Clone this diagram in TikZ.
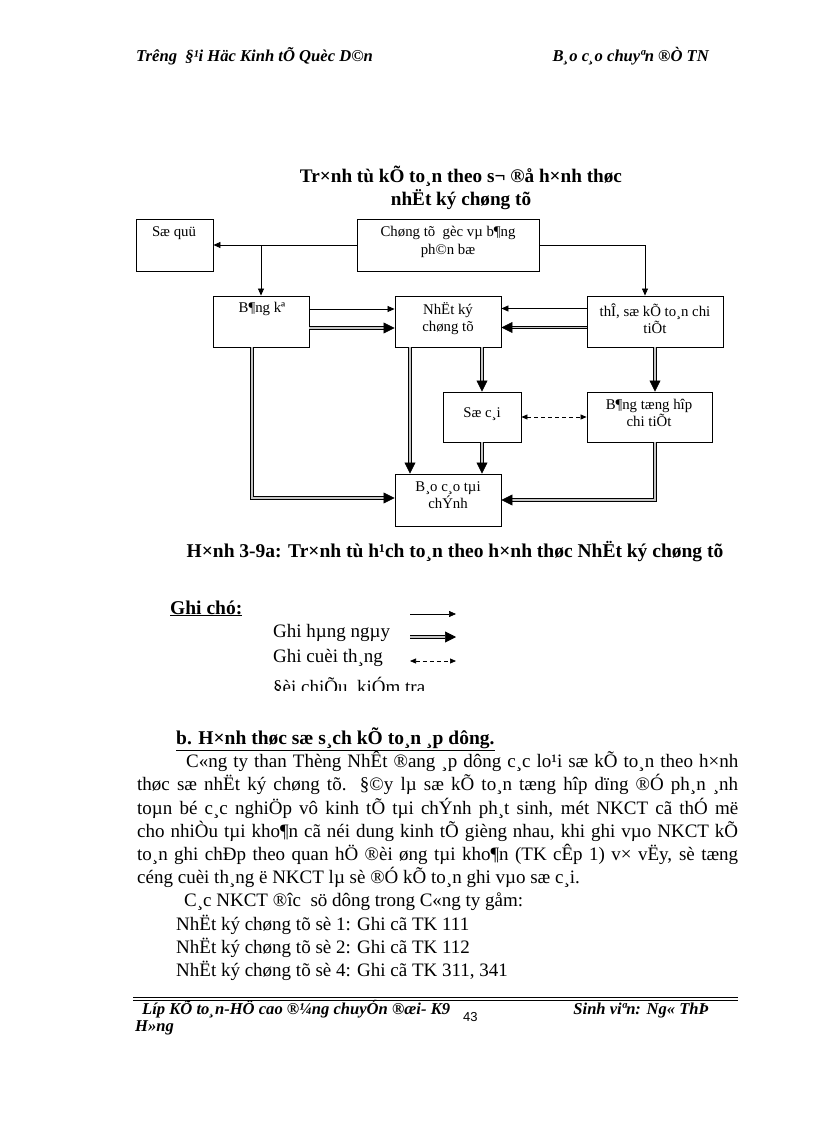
\documentclass[tikz,border=0pt]{standalone}
\usepackage{fontspec}
\setmainfont{Liberation Serif}
\newfontfamily\pagenofont{Liberation Sans}
\usetikzlibrary{arrows.meta}

\begin{document}
\begin{tikzpicture}[x=1pt,y=-1pt,
    box/.style={draw,line width=0.9pt,inner sep=0pt},
    boxtext/.style={align=center,inner sep=0pt,font=\fontsize{14.8}{17.5}\selectfont},
    daily/.style={line width=0.7pt,-{Triangle[length=7pt,width=6pt]}},
    monthly/.style={double=gray!45,line width=0.7pt,double distance=1.8pt,-{Triangle[length=11pt,width=11pt]}},
    check/.style={line width=0.7pt,dash pattern=on 4pt off 3pt,{Triangle[length=6pt,width=5pt]}-{Triangle[length=6pt,width=5pt]}},
    body/.style={anchor=base west,inner sep=0pt,font=\fontsize{19}{23}\selectfont},
    runner/.style={anchor=base west,inner sep=0pt,font=\fontsize{16.6}{16.6}\selectfont\bfseries\itshape}]
    \useasboundingbox (0,0) rectangle (816,1123);

    % Page header
    \node[runner] (school) at (136,62) {Trêng\ \ §¹i Häc Kinh tÕ Quèc D©n};
    \node[runner,anchor=base east] (report) at (709,62) {B¸o c¸o chuyªn ®Ò TN};

    % Title
    \node[font=\fontsize{19.2}{23}\selectfont\bfseries,align=center] (title) at (461,188)
        {Tr×nh tù kÕ to¸n theo s¬ ®å h×nh thøc\\nhËt ký chøng tõ};

    % Boxes
    \node[box,minimum width=77,minimum height=52] (soquy) at (174.5,245) {};
    \node[box,minimum width=182,minimum height=52] (chungtu) at (448,245) {};
    \node[box,minimum width=96,minimum height=51] (bangke) at (261,321.5) {};
    \node[box,minimum width=106,minimum height=51] (nhatky) at (448,321.5) {};
    \node[box,minimum width=136,minimum height=51] (theso) at (655,321.5) {};
    \node[box,minimum width=78,minimum height=50] (socai) at (482,417) {};
    \node[box,minimum width=125,minimum height=50] (tonghop) at (649.5,417) {};
    \node[box,minimum width=106,minimum height=52] (baocao) at (448,500) {};

    % Box labels
    \node[boxtext] (soquy-t) at (174,233) {Sæ quü};
    \node[boxtext] (chungtu-t) at (448,242) {Chøng tõ\ \ gèc vµ b¶ng\\ph©n bæ};
    \node[boxtext] (bangke-t) at (262,309) {B¶ng kª};
    \node[boxtext] (nhatky-t) at (448,318.5) {NhËt ký\\chøng tõ};
    \node[boxtext] (theso-t) at (655,318.5) {thÎ, sæ kÕ to¸n chi\\tiÕt};
    \node[boxtext] (socai-t) at (482,414) {Sæ c¸i};
    \node[boxtext] (tonghop-t) at (649,413) {B¶ng tæng hîp\\chi tiÕt};
    \node[boxtext] (baocao-t) at (448,495) {B¸o c¸o tµi\\chÝnh};

    % Daily entries
    \draw[daily] (chungtu.west) -- (soquy.east);
    \draw[daily] (chungtu.west -| bangke.north) -- (bangke.north);
    \draw[daily] (chungtu.east) -| ([xshift=-10pt]theso.north);
    \draw[daily] ([yshift=12.5pt]bangke.east) -- ([yshift=12.5pt]nhatky.west);
    \draw[daily] ([yshift=13pt]theso.west) -- ([yshift=13pt]nhatky.east);

    % Month-end entries
    \draw[monthly] ([yshift=-6.5pt]bangke.east) -- ([yshift=-6.5pt]nhatky.west);
    \draw[monthly] ([yshift=-6pt]theso.west) -- ([yshift=-6pt]nhatky.east);
    \draw[monthly] ([xshift=-9pt]bangke.south) |- ([yshift=2pt]baocao.west);
    \draw[monthly] ([xshift=-38pt]nhatky.south) -- ([xshift=-38pt]baocao.north);
    \draw[monthly] (nhatky.south -| socai.north) -- (socai.north);
    \draw[monthly] (socai.south) -- (socai.south |- baocao.north);
    \draw[monthly] (theso.south) -- (theso.south |- tonghop.north);
    \draw[monthly] ([xshift=5.5pt]tonghop.south) |- (baocao.east);

    % Cross-check
    \draw[check] (socai.east) -- (tonghop.west);

    % Caption
    \node[font=\fontsize{19.5}{22}\selectfont\bfseries] (caption) at (455,552)
        {H×nh 3-9a: Tr×nh tù h¹ch to¸n theo h×nh thøc NhËt ký chøng tõ};

    % Legend
    \node[body,font=\fontsize{19.5}{23}\selectfont\bfseries] (key) at (170,614) {\underline{Ghi chó:}};
    \node[body] (key-daily) at (273,637) {Ghi hµng ngµy};
    \node[body] (key-month) at (273,662) {Ghi cuèi th¸ng};
    \begin{scope}
        \clip (260,670) rectangle (480,690);
        \node[body] (key-check) at (273,693) {§èi chiÕu, kiÓm tra};
    \end{scope}
    \coordinate (A1) at (410,614);
    \coordinate (B1) at (456,614);
    \coordinate (A2) at (410,637);
    \coordinate (B2) at (456,637);
    \coordinate (A3) at (410,661);
    \coordinate (B3) at (456,661);
    \draw[daily] (A1) -- (B1);
    \draw[monthly] (A2) -- (B2);
    \draw[check] (A3) -- (B3);

    % Body text
    \node[body,font=\fontsize{19.5}{23}\selectfont\bfseries] (heading) at (176,744)
        {\underline{b. H×nh thøc sæ s¸ch kÕ to¸n ¸p dông.}};
    \node[body] (line1) at (186,767) {\makebox[552pt][s]{C«ng ty than Thèng NhÊt ®ang ¸p dông c¸c lo¹i sæ kÕ to¸n theo h×nh}};
    \node[body] (line2) at (137,790) {\makebox[601pt][s]{thøc sæ nhËt ký chøng tõ. §©y lµ sæ kÕ to¸n tæng hîp dïng ®Ó ph¸n ¸nh}};
    \node[body] (line3) at (137,814) {\makebox[601pt][s]{toµn bé c¸c nghiÖp vô kinh tÕ tµi chÝnh ph¸t sinh, mét NKCT cã thÓ më}};
    \node[body] (line4) at (137,837) {\makebox[601pt][s]{cho nhiÒu tµi kho¶n cã néi dung kinh tÕ gièng nhau, khi ghi vµo NKCT kÕ}};
    \node[body] (line5) at (137,860) {\makebox[601pt][s]{to¸n ghi chÐp theo quan hÖ ®èi øng tµi kho¶n (TK cÊp 1) v× vËy, sè tæng}};
    \node[body] (line6) at (137,883) {céng cuèi th¸ng ë NKCT lµ sè ®Ó kÕ to¸n ghi vµo sæ c¸i.};
    \node[body] (line7) at (184,906) {C¸c NKCT ®îc\ \ sö dông trong C«ng ty gåm:};
    \node[body] (line8) at (176,930) {NhËt ký chøng tõ sè 1: Ghi cã TK 111};
    \node[body] (line9) at (176,953) {NhËt ký chøng tõ sè 2: Ghi cã TK 112};
    \node[body] (line10) at (176,976) {NhËt ký chøng tõ sè 4: Ghi cã TK 311, 341};

    % Page footer
    \draw[line width=1.6pt] (133,997.5) -- (738,997.5);
    \draw[line width=0.6pt] (133,1000.5) -- (738,1000.5);
    \node[runner] (klass) at (142,1014) {Líp KÕ to¸n-HÖ cao ®¼ng chuyÓn ®æi- K9};
    \node[runner] (klass2) at (135,1031) {H»ng};
    \node[anchor=base west,inner sep=0pt,font=\pagenofont\fontsize{13}{13}\selectfont] (pageno) at (463,1021) {43};
    \node[runner,anchor=base east] (student) at (709,1014) {Sinh viªn: Ng« ThÞ};
\end{tikzpicture}
\end{document}
